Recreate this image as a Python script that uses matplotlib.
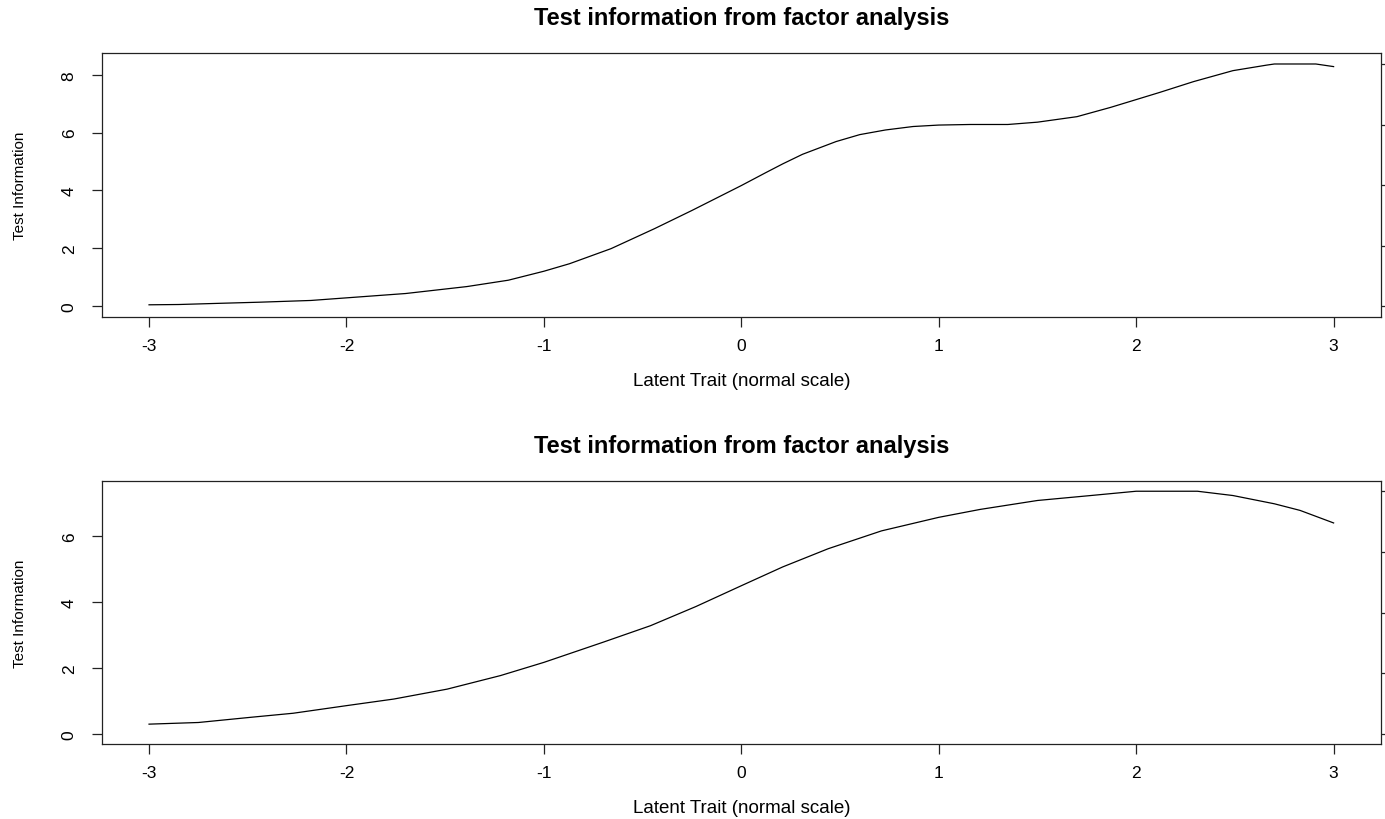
# %%
# Importing the libraries
import numpy as np
import matplotlib
matplotlib.use("Agg")
import matplotlib.pyplot as plt

plt.rcParams['font.family'] = ['Liberation Sans', 'DejaVu Sans']

# %%
# Values
xTop = [-3.0, -2.85, -2.65, -2.44, -2.18, -2.0, -1.70, -1.39, -1.18, -1.0,
        -0.87, -0.66, -0.44, -0.25, 0.0, 0.125, 0.21, 0.31, 0.48, 0.60,
        0.73, 0.87, 1.0, 1.16, 1.35, 1.50, 1.70, 1.87, 2.0, 2.12,
        2.29, 2.49, 2.66, 2.70, 2.91, 3.0]
infoTop = [0.05, 0.06, 0.10, 0.14, 0.20, 0.29, 0.44, 0.68, 0.90, 1.21,
           1.47, 1.99, 2.68, 3.31, 4.17, 4.62, 4.92, 5.25, 5.69, 5.93,
           6.09, 6.21, 6.26, 6.28, 6.28, 6.36, 6.55, 6.87, 7.14, 7.39,
           7.76, 8.14, 8.33, 8.37, 8.37, 8.28]

xBottom = [-3.0, -2.75, -2.48, -2.27, -2.0, -1.76, -1.49, -1.22, -1.0, -0.70,
           -0.46, -0.23, 0.0, 0.21, 0.44, 0.71, 1.0, 1.21, 1.50, 1.77,
           2.0, 2.31, 2.49, 2.70, 2.83, 3.0]
infoBottom = [0.30, 0.35, 0.51, 0.63, 0.86, 1.06, 1.36, 1.77, 2.17, 2.78,
              3.28, 3.86, 4.49, 5.06, 5.61, 6.15, 6.56, 6.80, 7.07, 7.22,
              7.35, 7.35, 7.22, 6.97, 6.77, 6.39]

xTicks = [-3, -2, -1, 0, 1, 2, 3]
yTicksTop = [0, 2, 4, 6, 8]
yTicksBottom = [0, 2, 4, 6]

title = "Test information from factor analysis"
xlabel = "Latent Trait (normal scale)"
ylabel = "Test Information"

# %%
# Plot
fig = plt.figure(figsize=(13.85, 8.2), dpi=100)

panels = [
    ([0.0734, 0.6126, 0.9237, 0.3212], xTop, infoTop, yTicksTop, (-0.36, 8.74)),
    ([0.0734, 0.0915, 0.9237, 0.3203], xBottom, infoBottom, yTicksBottom, (-0.30, 7.65)),
]

for rect, x, y, yticks, ylim in panels:
    ax = fig.add_axes(rect)
    ax.plot(x, y, color='black', lw=0.9)
    ax.set_xlim(-3.24, 3.24)
    ax.set_ylim(*ylim)
    ax.set_xticks(xTicks)
    ax.set_xticklabels([str(t) for t in xTicks])
    ax.set_yticks(yticks)
    ax.set_yticklabels([str(t) for t in yticks])
    for s in ax.spines.values():
        s.set_linewidth(0.9)
        s.set_color('#222222')
    ax.tick_params(axis='both', direction='out', length=7, width=0.9,
                   color='#222222', labelsize=12.5)
    ax.tick_params(axis='x', pad=8)
    ax.tick_params(axis='y', pad=11, labelrotation=90)
    for lab in ax.get_yticklabels():
        lab.set_va('center')

    # right axis, ticks only
    ax2 = ax.twinx()
    ax2.set_ylim(*ylim)
    ax2.set_yticks(np.linspace(0, max(y), 5))
    ax2.set_yticklabels([])
    ax2.tick_params(axis='y', direction='out', length=7, width=0.9, color='#222222')
    for s in ax2.spines.values():
        s.set_visible(False)

    ax.text(0.5, 1.136, title, transform=ax.transAxes, ha='center', va='center',
            fontsize=17, fontweight='bold')
    ax.text(0.5, -0.242, xlabel, transform=ax.transAxes, ha='center', va='center',
            fontsize=13.5)
    ax.text(-0.0639, 0.5, ylabel, transform=ax.transAxes, ha='center', va='center',
            rotation=90, fontsize=11)

fig.savefig("out.png", dpi=100)
